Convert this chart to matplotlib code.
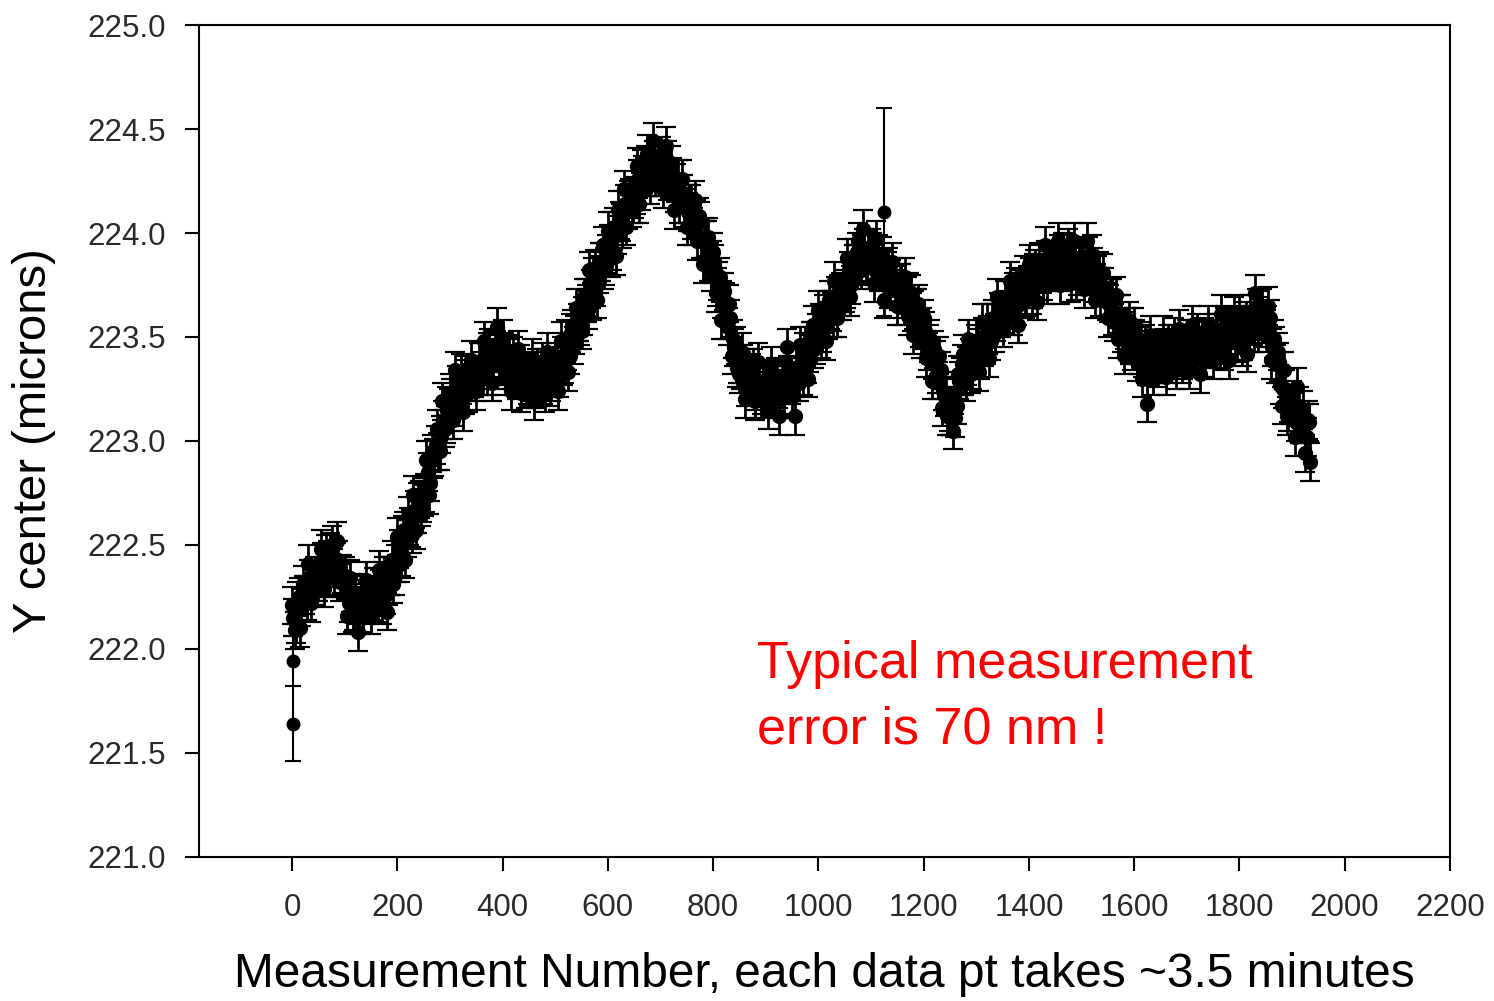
import numpy as np
import matplotlib
matplotlib.use("Agg")
import matplotlib.pyplot as plt

plt.rcParams['font.family'] = ['Liberation Sans', 'DejaVu Sans']

meas_step = 5
y_center = [
    222.21, 222.09, 222.23, 222.10, 222.31, 222.26, 222.41, 222.22, 222.34, 222.30,
    222.32, 222.48, 222.29, 222.46, 222.41, 222.50, 222.34, 222.52, 222.32, 222.36,
    222.35, 222.16, 222.34, 222.17, 222.27, 222.08, 222.24, 222.17, 222.33, 222.23,
    222.16, 222.30, 222.25, 222.38, 222.21, 222.35, 222.18, 222.35, 222.43, 222.35,
    222.54, 222.41, 222.55, 222.43, 222.64, 222.58, 222.74, 222.57, 222.71, 222.68,
    222.73, 222.91, 222.74, 222.94, 222.92, 223.06, 222.95, 223.19, 223.06, 223.17,
    223.23, 223.10, 223.34, 223.21, 223.33, 223.14, 223.30, 223.23, 223.39, 223.30,
    223.24, 223.38, 223.34, 223.48, 223.31, 223.45, 223.28, 223.44, 223.55, 223.36,
    223.49, 223.31, 223.40, 223.24, 223.41, 223.32, 223.44, 223.23, 223.32, 223.25,
    223.26, 223.40, 223.19, 223.35, 223.29, 223.38, 223.23, 223.43, 223.26, 223.34,
    223.38, 223.24, 223.48, 223.36, 223.49, 223.33, 223.52, 223.46, 223.64, 223.57,
    223.53, 223.69, 223.66, 223.82, 223.67, 223.83, 223.68, 223.86, 223.94, 223.84,
    224.01, 223.88, 224.01, 223.89, 224.11, 224.05, 224.21, 224.03, 224.16, 224.12,
    224.16, 224.32, 224.14, 224.31, 224.27, 224.38, 224.23, 224.44, 224.27, 224.35,
    224.37, 224.21, 224.42, 224.25, 224.33, 224.11, 224.24, 224.14, 224.26, 224.14,
    224.03, 224.14, 224.06, 224.16, 223.96, 224.06, 223.85, 223.97, 223.98, 223.81,
    223.91, 223.71, 223.77, 223.58, 223.72, 223.58, 223.66, 223.41, 223.45, 223.35,
    223.32, 223.43, 223.20, 223.35, 223.27, 223.35, 223.19, 223.38, 223.20, 223.27,
    223.30, 223.15, 223.36, 223.21, 223.31, 223.12, 223.28, 223.22, 223.45, 223.29,
    223.21, 223.12, 223.31, 223.46, 223.31, 223.46, 223.30, 223.48, 223.56, 223.46,
    223.63, 223.49, 223.61, 223.48, 223.68, 223.62, 223.77, 223.59, 223.71, 223.67,
    223.71, 223.88, 223.69, 223.88, 223.85, 223.96, 223.82, 224.02, 223.84, 223.92,
    223.93, 223.76, 223.97, 223.81, 223.89, 223.68, 223.82, 223.73, 223.86, 223.75,
    223.65, 223.76, 223.68, 223.79, 223.60, 223.71, 223.51, 223.64, 223.66, 223.49,
    223.59, 223.40, 223.47, 223.29, 223.44, 223.32, 223.41, 223.16, 223.21, 223.12,
    223.12, 223.05, 223.11, 223.32, 223.31, 223.42, 223.28, 223.49, 223.32, 223.42,
    223.47, 223.33, 223.57, 223.45, 223.57, 223.40, 223.57, 223.52, 223.69, 223.61,
    223.54, 223.68, 223.63, 223.77, 223.60, 223.74, 223.56, 223.73, 223.80, 223.69,
    223.85, 223.70, 223.81, 223.67, 223.86, 223.80, 223.94, 223.75, 223.86, 223.81,
    223.82, 223.96, 223.75, 223.91, 223.84, 223.93, 223.76, 223.96, 223.77, 223.85,
    223.88, 223.73, 223.96, 223.81, 223.90, 223.68, 223.80, 223.69, 223.81, 223.69,
    223.59, 223.69, 223.60, 223.70, 223.49, 223.61, 223.41, 223.55, 223.58, 223.43,
    223.55, 223.38, 223.46, 223.30, 223.47, 223.18, 223.51, 223.31, 223.41, 223.35,
    223.37, 223.51, 223.31, 223.47, 223.41, 223.50, 223.34, 223.54, 223.37, 223.45,
    223.49, 223.34, 223.56, 223.42, 223.52, 223.32, 223.48, 223.40, 223.56, 223.46,
    223.39, 223.52, 223.47, 223.61, 223.43, 223.56, 223.39, 223.54, 223.60, 223.47,
    223.61, 223.45, 223.56, 223.42, 223.61, 223.55, 223.71, 223.52, 223.63, 223.56,
    223.54, 223.65, 223.39, 223.49, 223.37, 223.38, 223.17, 223.34, 223.12, 223.18,
    223.20, 223.02, 223.26, 223.08, 223.15, 222.94, 223.10, 222.90,
]

# the measurements in between (2.5, 7.5, 12.5, ...), closer to the middle of the cloud
y_between = [
    222.15, 222.12, 222.25, 222.20, 222.26, 222.23, 222.34, 222.30, 222.35, 222.32,
    222.34, 222.42, 222.35, 222.43, 222.47, 222.39, 222.42, 222.43, 222.34, 222.35,
    222.33, 222.22, 222.27, 222.18, 222.21, 222.16, 222.26, 222.22, 222.26, 222.21,
    222.23, 222.30, 222.22, 222.29, 222.33, 222.26, 222.30, 222.35, 222.31, 222.41,
    222.48, 222.44, 222.57, 222.53, 222.59, 222.55, 222.67, 222.65, 222.72, 222.70,
    222.75, 222.85, 222.80, 222.91, 222.98, 222.95, 223.03, 223.10, 223.08, 223.16,
    223.21, 223.16, 223.27, 223.22, 223.27, 223.22, 223.32, 223.28, 223.32, 223.28,
    223.31, 223.38, 223.31, 223.39, 223.43, 223.36, 223.40, 223.44, 223.38, 223.42,
    223.43, 223.34, 223.42, 223.34, 223.36, 223.29, 223.37, 223.31, 223.33, 223.27,
    223.28, 223.34, 223.25, 223.32, 223.35, 223.27, 223.31, 223.34, 223.28, 223.33,
    223.36, 223.30, 223.41, 223.37, 223.43, 223.41, 223.54, 223.51, 223.57, 223.55,
    223.60, 223.69, 223.63, 223.73, 223.79, 223.74, 223.80, 223.86, 223.82, 223.90,
    223.95, 223.91, 224.03, 223.99, 224.06, 224.02, 224.14, 224.11, 224.17, 224.14,
    224.18, 224.26, 224.20, 224.28, 224.33, 224.27, 224.31, 224.35, 224.29, 224.34,
    224.35, 224.27, 224.35, 224.26, 224.27, 224.19, 224.26, 224.19, 224.19, 224.12,
    224.10, 224.14, 224.03, 224.07, 224.08, 223.97, 223.97, 223.97, 223.86, 223.87,
    223.85, 223.74, 223.79, 223.68, 223.67, 223.55, 223.59, 223.49, 223.46, 223.37,
    223.34, 223.37, 223.26, 223.32, 223.33, 223.24, 223.27, 223.29, 223.22, 223.26,
    223.28, 223.21, 223.29, 223.22, 223.25, 223.20, 223.30, 223.27, 223.32, 223.27,
    223.28, 223.35, 223.28, 223.37, 223.43, 223.37, 223.42, 223.48, 223.44, 223.52,
    223.57, 223.52, 223.63, 223.58, 223.63, 223.59, 223.70, 223.67, 223.72, 223.69,
    223.73, 223.82, 223.75, 223.85, 223.91, 223.85, 223.90, 223.93, 223.86, 223.91,
    223.91, 223.82, 223.90, 223.82, 223.83, 223.76, 223.84, 223.78, 223.79, 223.73,
    223.72, 223.76, 223.65, 223.70, 223.72, 223.62, 223.63, 223.64, 223.54, 223.55,
    223.53, 223.43, 223.49, 223.39, 223.39, 223.29, 223.34, 223.24, 223.22, 223.14,
    223.12, 223.22, 223.17, 223.29, 223.37, 223.31, 223.36, 223.40, 223.34, 223.41,
    223.45, 223.39, 223.50, 223.46, 223.51, 223.48, 223.59, 223.57, 223.62, 223.59,
    223.61, 223.68, 223.60, 223.68, 223.72, 223.65, 223.68, 223.73, 223.68, 223.75,
    223.79, 223.73, 223.83, 223.77, 223.81, 223.77, 223.87, 223.83, 223.87, 223.83,
    223.84, 223.90, 223.81, 223.88, 223.90, 223.82, 223.84, 223.87, 223.79, 223.84,
    223.86, 223.79, 223.89, 223.82, 223.84, 223.76, 223.82, 223.74, 223.74, 223.67,
    223.66, 223.69, 223.57, 223.61, 223.61, 223.52, 223.53, 223.55, 223.46, 223.49,
    223.49, 223.41, 223.48, 223.40, 223.42, 223.36, 223.44, 223.39, 223.42, 223.37,
    223.39, 223.45, 223.37, 223.44, 223.47, 223.39, 223.42, 223.45, 223.39, 223.44,
    223.47, 223.40, 223.49, 223.43, 223.46, 223.40, 223.50, 223.45, 223.49, 223.44,
    223.46, 223.52, 223.44, 223.52, 223.55, 223.47, 223.51, 223.54, 223.48, 223.53,
    223.55, 223.48, 223.58, 223.52, 223.56, 223.52, 223.64, 223.60, 223.64, 223.58,
    223.56, 223.59, 223.45, 223.46, 223.43, 223.27, 223.25, 223.25, 223.14, 223.17,
    223.18, 223.09, 223.17, 223.08, 223.09, 223.02, 223.09,
]

meas_num = np.arange(len(y_center)) * meas_step
meas_between = np.arange(len(y_between)) * meas_step + meas_step / 2
typical_err = 0.09  # error bars drawn on the cloud (~70-100 nm)

# the few points with large error bars
odd_num = [1, 2, 1125]
odd_y = [221.94, 221.64, 224.10]
odd_err = [0.12, 0.18, 0.50]

xticks = list(range(0, 2201, 200))
yticks = [221.0, 221.5, 222.0, 222.5, 223.0, 223.5, 224.0, 224.5, 225.0]

fig = plt.figure(figsize=(14.94, 10.01), dpi=100)
ax = fig.add_axes([0.1332, 0.1439, 0.8373, 0.8311])

style = dict(fmt='o', color='black', ecolor='black', markersize=10,
             elinewidth=2, capsize=7, capthick=1.6)
ax.errorbar(meas_between, y_between, yerr=typical_err, **style)
ax.errorbar(meas_num, y_center, yerr=typical_err, **style)
odd_style = dict(style, markersize=9, elinewidth=1.5, capthick=1.5, capsize=6)
ax.errorbar(odd_num, odd_y, yerr=odd_err, **odd_style)

ax.set_xlim(-177, 2200)
ax.set_ylim(221.0, 225.0)
ax.set_xticks(xticks)
ax.set_yticks(yticks)
ax.set_yticklabels(['%.1f' % v for v in yticks])

for s in ax.spines.values():
    s.set_linewidth(1.5)
ax.tick_params(axis='both', direction='out', length=10, width=1.5,
               labelsize=22.5, labelcolor='#2a2a2a')
ax.tick_params(axis='x', pad=16)
ax.tick_params(axis='y', pad=14)

ax.set_xlabel('Measurement Number, each data pt takes ~3.5 minutes', fontsize=34.5, labelpad=21)
ax.set_ylabel('Y center (microns)', fontsize=34, labelpad=22)

ax.text(0.446, 0.192, 'Typical measurement\nerror is 70 nm !', transform=ax.transAxes,
        color='red', fontsize=37.5, va='center', ha='left', linespacing=1.45)

fig.savefig('out.png', dpi=100)
